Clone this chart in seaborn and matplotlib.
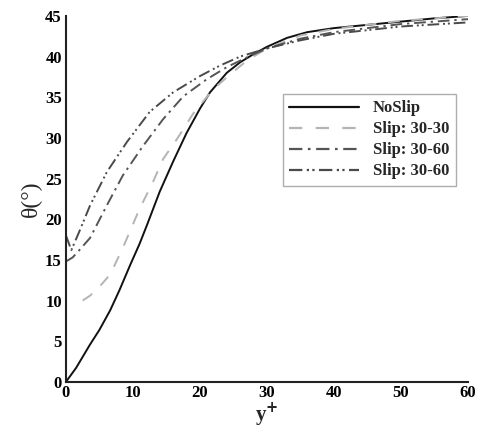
import numpy as np
import pandas as pd
import matplotlib
matplotlib.use("Agg")
import matplotlib.pyplot as plt
import seaborn as sns
from matplotlib.ticker import MultipleLocator

# ---- data ----
noslip_x = [0, 1.5, 3.6, 5, 6.6, 8, 9.6, 11, 12.1, 14, 16, 18, 20, 21.5, 24, 26, 28, 30, 33, 36, 40, 45, 50, 55, 60]
noslip_y = [0, 1.7, 4.6, 6.4, 8.8, 11.3, 14.4, 17, 19.3, 23.4, 27.1, 30.6, 33.6, 35.6, 38, 39.3, 40.3, 41.2, 42.3, 43, 43.5, 43.9, 44.3, 44.7, 45]

slip3030_x = [2.5, 3.6, 5, 6.6, 8.5, 11, 13, 14.5, 16.6, 19, 22, 24.5, 27, 30, 35, 40, 50, 60]
slip3030_y = [10, 10.6, 11.7, 13.2, 16.5, 21.3, 24.6, 27.4, 29.9, 33, 36, 37.8, 39.5, 41, 42.6, 43.4, 44.4, 45]

slip3060a_x = [0, 1, 2, 3.6, 6.1, 8.5, 11.5, 14.5, 17.5, 21, 24, 27, 30, 35, 40, 50, 60]
slip3060a_y = [14.8, 15.3, 16.2, 17.7, 21.7, 25.4, 29, 32.3, 35.1, 37.2, 38.7, 39.9, 41, 42.2, 43, 44, 44.6]

slip3060b_x = [0, 0.8, 2, 3.6, 6.1, 9.1, 12.5, 16, 20, 23, 26, 30, 35, 40, 50, 60]
slip3060b_y = [18, 16.2, 18.5, 21.7, 25.8, 29.5, 33.2, 35.6, 37.6, 38.9, 40, 41, 42, 42.8, 43.7, 44.2]

labels = ["NoSlip", "Slip: 30-30", "Slip: 30-60", "Slip: 30-60"]
colors = ["#111111", "#b4b4b4", "#555555", "#4a4a4a"]
dashes = [None, (6, 6), (6, 2.5, 1.2, 2.5), (6, 2, 1, 1.5, 1, 2)]

sns.set_theme(style="white")
plt.rcParams['font.family'] = ['Liberation Serif', 'DejaVu Serif']

fig = plt.figure(figsize=(4.78, 4.30), dpi=100)
ax = fig.add_axes([0.138, 0.112, 0.841, 0.851])

series = [(noslip_x, noslip_y), (slip3030_x, slip3030_y),
          (slip3060a_x, slip3060a_y), (slip3060b_x, slip3060b_y)]
for (xs, ys), lab, c, d in zip(series, labels, colors, dashes):
    df = pd.DataFrame({"x": xs, "y": ys})
    sns.lineplot(data=df, x="x", y="y", ax=ax, color=c, lw=1.4,
                 label=lab, sort=False, estimator=None)
    l = ax.get_lines()[-1]
    if d is not None:
        l.set_dashes(d)

ax.set_xlim(0, 60)
ax.set_ylim(0, 45)
ax.xaxis.set_major_locator(MultipleLocator(10))
ax.xaxis.set_minor_locator(MultipleLocator(2))
ax.yaxis.set_major_locator(MultipleLocator(5))
ax.yaxis.set_minor_locator(MultipleLocator(1))
ax.tick_params(which="both", direction="in", colors="#222222", labelcolor="black")
ax.tick_params(which="major", length=7, width=1.3, labelsize=12, pad=3)
ax.tick_params(axis="x", which="major", pad=2)
ax.tick_params(which="minor", length=3.5, width=1.0)
for lab in ax.get_xticklabels() + ax.get_yticklabels():
    lab.set_fontweight("bold")
for s in ["top", "right"]:
    ax.spines[s].set_visible(False)
for s in ["left", "bottom"]:
    ax.spines[s].set_color("#222222")
    ax.spines[s].set_linewidth(1.5)

ax.set_xlabel("y$^{\\mathbf{+}}$", fontsize=15, fontweight="bold", labelpad=0)
ax.set_ylabel("θ(°)", fontsize=17, labelpad=2)

leg = ax.legend(loc="upper left", bbox_to_anchor=(0.518, 0.81), frameon=True,
                fancybox=False, edgecolor="#999999", prop={"weight": "bold", "size": 12},
                handlelength=4.2, borderpad=0.4, labelspacing=0.3, handletextpad=0.8)
leg.get_frame().set_linewidth(1.0)
for h in leg.get_lines():
    h.set_linewidth(1.6)

fig.savefig("out.png", dpi=100)
